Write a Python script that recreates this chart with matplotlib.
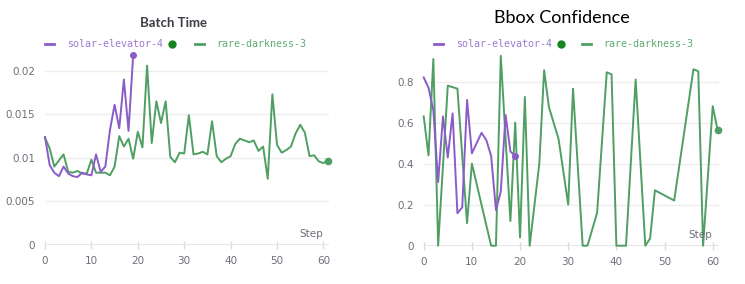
import matplotlib
matplotlib.use("Agg")
import matplotlib.pyplot as plt
from matplotlib.lines import Line2D

# Batch Time data
bt_purple_steps = list(range(20))
bt_purple = [0.0124, 0.0092, 0.0083, 0.0079, 0.0090, 0.0082, 0.0079, 0.0078, 0.0083, 0.0081,
             0.0080, 0.0104, 0.0084, 0.0090, 0.0132, 0.0161, 0.0134, 0.0190, 0.0131, 0.0218]
bt_green_steps = list(range(62))
bt_green = [0.0123, 0.0111, 0.0090, 0.0097, 0.0104, 0.0084, 0.0083, 0.0085, 0.0082, 0.0082,
            0.0098, 0.0083, 0.0083, 0.0083, 0.0080, 0.0090, 0.0125, 0.0113, 0.0122, 0.0099,
            0.0130, 0.0112, 0.0206, 0.0117, 0.0165, 0.0140, 0.0165, 0.0101, 0.0095, 0.0106,
            0.0105, 0.0149, 0.0104, 0.0105, 0.0107, 0.0104, 0.0142, 0.0102, 0.0095, 0.0099,
            0.0102, 0.0116, 0.0122, 0.0120, 0.0118, 0.0120, 0.0108, 0.0113, 0.0076, 0.0173,
            0.0115, 0.0106, 0.0109, 0.0113, 0.0128, 0.0138, 0.0129, 0.0102, 0.0103, 0.0096,
            0.0094, 0.0097]

# Bbox Confidence data
bc_purple_steps = list(range(20))
bc_purple = [0.82, 0.77, 0.66, 0.31, 0.63, 0.43, 0.645, 0.158, 0.187, 0.71,
             0.45, 0.50, 0.55, 0.515, 0.437, 0.174, 0.263, 0.637, 0.459, 0.439]
bc_green_steps = [0, 1, 2, 3, 5, 7, 9, 10, 14, 15, 16, 18, 19, 20, 21, 22, 24, 25, 26, 28,
                  30, 31, 33, 34, 36, 38, 39, 40, 42, 44, 46, 47, 48, 52, 56, 57, 58, 60, 61]
bc_green = [0.63, 0.44, 0.91, 0.0, 0.78, 0.765, 0.11, 0.40, 0.0, 0.0, 0.925, 0.12, 0.60, 0.04,
            0.725, 0.0, 0.40, 0.855, 0.675, 0.52, 0.20, 0.765, 0.0, 0.0, 0.16, 0.845, 0.835,
            0.0, 0.0, 0.81, 0.0, 0.035, 0.27, 0.22, 0.86, 0.85, 0.0, 0.68, 0.565]

x_ticks = [0, 10, 20, 30, 40, 50, 60]
series_names = ["solar-elevator-4", "rare-darkness-3"]

PURPLE = "#8a5cc8"
GREEN = "#4f9f62"
DOT_GREEN = "#15841f"
GRAY = "#6e6e78"

W, H = 745, 284
fig = plt.figure(figsize=(W / 100, H / 100), dpi=100)


def px(x, y):
    return x / W, 1 - y / H


def style_axes(ax, yticks, ylabels, ylim):
    for s in ax.spines.values():
        s.set_visible(False)
    ax.set_xlim(0, 61.2)
    ax.set_ylim(*ylim)
    ax.set_xticks(x_ticks)
    ax.set_yticks(yticks)
    ax.set_yticklabels(ylabels)
    ax.tick_params(axis="y", length=0, pad=7, labelsize=7.5, labelcolor=GRAY)
    ax.tick_params(axis="x", direction="inout", length=6, width=1, color="#dcdcdc",
                   pad=5, labelsize=7.5, labelcolor=GRAY)
    ax.grid(axis="y", color="#eeeeee", lw=1)
    ax.set_axisbelow(True)
    ax.axhline(ylim[0], color="#e2e2e2", lw=2, zorder=0.5)
    ax.text(0.979, 0.03, "Step", transform=ax.transAxes, ha="right", va="bottom",
            fontsize=7.5, color=GRAY)


def legend(x0, dot_x, x1):
    y = 44
    fig.add_artist(Line2D([x0 / W, (x0 + 9) / W], [1 - y / H] * 2, color=PURPLE, lw=2))
    fig.text(*px(x0 + 22, y), series_names[0], color="#9a7ad0", fontsize=7.2,
             family="DejaVu Sans Mono", va="center")
    fig.add_artist(Line2D([dot_x / W], [1 - y / H], marker="o", ms=5,
                          color=DOT_GREEN, lw=0))
    fig.add_artist(Line2D([x1 / W, (x1 + 9) / W], [1 - y / H] * 2, color=GREEN, lw=2))
    fig.text(*px(x1 + 21, y), series_names[1], color="#5fab72", fontsize=7.2,
             family="DejaVu Sans Mono", va="center")


# Left: Batch Time
ax1 = fig.add_axes([45 / W, 39 / H, 284 / W, 196 / H])
style_axes(ax1, [0, 0.005, 0.01, 0.015, 0.02], ["0", "0.005", "0.01", "0.015", "0.02"],
           (0, 0.0225))
ax1.plot(bt_green_steps, bt_green, color=GREEN, lw=1.4, clip_on=False)
ax1.plot(bt_purple_steps, bt_purple, color=PURPLE, lw=1.4, clip_on=False)
ax1.plot(bt_purple_steps[-1], bt_purple[-1], "o", color=PURPLE, ms=4, clip_on=False)
ax1.plot(bt_green_steps[-1], bt_green[-1], "o", color=GREEN, ms=4.5, clip_on=False)
fig.text(*px(174, 23), "Batch Time", ha="center", va="center", fontsize=9.5,
         fontweight="bold", color="#3c3c44", family="Lato")
legend(45, 172, 195)

# Right: Bbox Confidence
ax2 = fig.add_axes([423.7 / W, 38.3 / H, 294.8 / W, 197 / H])
style_axes(ax2, [0, 0.2, 0.4, 0.6, 0.8], ["0", "0.2", "0.4", "0.6", "0.8"], (0, 0.96))
ax2.plot(bc_green_steps, bc_green, color=GREEN, lw=1.4, clip_on=False)
ax2.plot(bc_purple_steps, bc_purple, color=PURPLE, lw=1.4, clip_on=False)
ax2.plot(bc_purple_steps[-1], bc_purple[-1], "o", color=PURPLE, ms=4, clip_on=False)
ax2.plot(bc_green_steps[-1], bc_green[-1], "o", color=GREEN, ms=4.5, clip_on=False)
fig.text(*px(562, 18), "Bbox Confidence", ha="center", va="center", fontsize=13,
         color="black", family="Lato")
legend(434, 561, 582)

fig.savefig("out.png", dpi=100)
